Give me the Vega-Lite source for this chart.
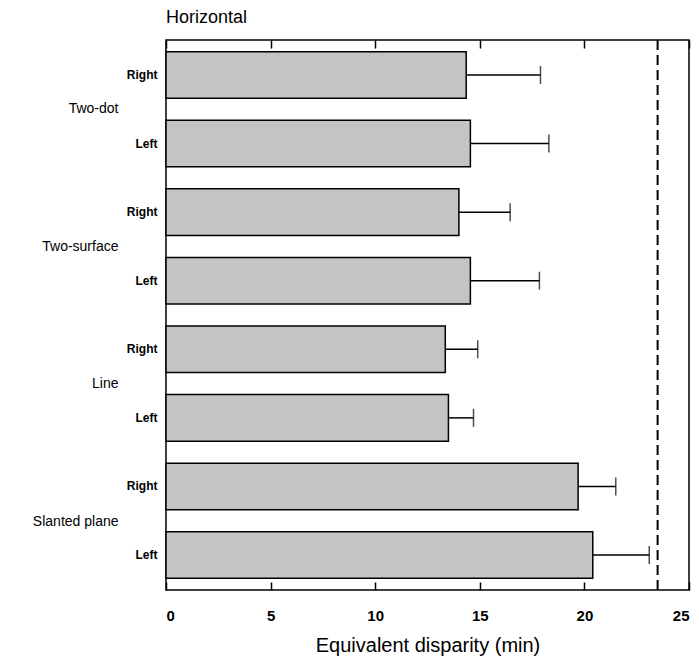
{
  "$schema": "https://vega.github.io/schema/vega-lite/v6.json",
  "autosize": "none",
  "width": 523,
  "height": 550,
  "padding": {"left": 166, "top": 40, "right": 10, "bottom": 69},
  "background": "white",
  "config": {
    "font": "Liberation Sans",
    "view": {"stroke": "black", "strokeWidth": 1.5},
    "title": {"font": "Liberation Sans", "fontSize": 18, "fontWeight": "normal", "anchor": "start", "frame": "group", "offset": 12, "color": "black"}
  },
  "title": "Horizontal",
  "datasets": {
    "bars": [
      {"key": "Two-dot|Right", "group": "Two-dot", "side": "Right", "value": 14.35, "upper": 17.9},
      {"key": "Two-dot|Left", "group": "Two-dot", "side": "Left", "value": 14.55, "upper": 18.3},
      {"key": "Two-surface|Right", "group": "Two-surface", "side": "Right", "value": 14.0, "upper": 16.45},
      {"key": "Two-surface|Left", "group": "Two-surface", "side": "Left", "value": 14.55, "upper": 17.85},
      {"key": "Line|Right", "group": "Line", "side": "Right", "value": 13.35, "upper": 14.9},
      {"key": "Line|Left", "group": "Line", "side": "Left", "value": 13.5, "upper": 14.7},
      {"key": "Slanted plane|Right", "group": "Slanted plane", "side": "Right", "value": 19.7, "upper": 21.5},
      {"key": "Slanted plane|Left", "group": "Slanted plane", "side": "Left", "value": 20.4, "upper": 23.1}
    ],
    "groups": [
      {"group": "Two-dot"},
      {"group": "Two-surface"},
      {"group": "Line"},
      {"group": "Slanted plane"}
    ],
    "ref": [{"threshold": 23.5}]
  },
  "layer": [
    {
      "layer": [
        {
          "data": {"name": "bars"},
          "mark": {"type": "bar", "fill": "#c4c4c4", "stroke": "black", "strokeWidth": 1.5},
          "encoding": {
            "y": {
              "field": "key",
              "type": "nominal",
              "sort": ["Two-dot|Right", "Two-dot|Left", "Two-surface|Right", "Two-surface|Left", "Line|Right", "Line|Left", "Slanted plane|Right", "Slanted plane|Left"],
              "scale": {"paddingInner": 0.32, "paddingOuter": 0.17},
              "axis": {
                "title": null,
                "ticks": false,
                "domain": false,
                "labelExpr": "split(datum.label, '|')[1]",
                "labelFont": "Liberation Sans",
                "labelFontSize": 12,
                "labelFontWeight": "bold",
                "labelColor": "black",
                "labelPadding": 9
              }
            },
            "x": {
              "field": "value",
              "type": "quantitative",
              "scale": {"domain": [0, 25], "nice": false, "zero": true},
              "axis": {
                "orient": "bottom",
                "values": [0, 5, 10, 15, 20, 25],
                "grid": false,
                "domain": false,
                "tickSize": -8,
                "tickWidth": 1.5,
                "tickColor": "black",
                "labelPadding": 26,
                "labelFont": "Liberation Sans",
                "labelFontSize": 15,
                "labelFontWeight": "bold",
                "labelColor": "black",
                "title": "Equivalent disparity (min)",
                "titleFont": "Liberation Sans",
                "titleFontSize": 20,
                "titleFontWeight": "normal",
                "titleColor": "black",
                "titlePadding": 12
              }
            }
          }
        },
        {
          "data": {"name": "bars"},
          "mark": {"type": "rule", "color": "black", "strokeWidth": 1.5},
          "encoding": {
            "y": {"field": "key", "type": "nominal", "axis": null, "sort": ["Two-dot|Right", "Two-dot|Left", "Two-surface|Right", "Two-surface|Left", "Line|Right", "Line|Left", "Slanted plane|Right", "Slanted plane|Left"]},
            "x": {"field": "value", "type": "quantitative", "axis": null},
            "x2": {"field": "upper"}
          }
        },
        {
          "data": {"name": "bars"},
          "mark": {"type": "tick", "orient": "vertical", "color": "black", "size": 18, "thickness": 1.5},
          "encoding": {
            "y": {"field": "key", "type": "nominal", "axis": null, "sort": ["Two-dot|Right", "Two-dot|Left", "Two-surface|Right", "Two-surface|Left", "Line|Right", "Line|Left", "Slanted plane|Right", "Slanted plane|Left"]},
            "x": {"field": "upper", "type": "quantitative", "axis": null}
          }
        },
        {
          "data": {"name": "ref"},
          "mark": {"type": "rule", "color": "black", "strokeWidth": 2, "strokeDash": [10, 5]},
          "encoding": {
            "x": {
              "field": "threshold",
              "type": "quantitative",
              "axis": {
                "orient": "top",
                "values": [0, 5, 10, 15, 20, 25],
                "labels": false,
                "grid": false,
                "domain": false,
                "tickSize": -8,
                "tickWidth": 1.5,
                "tickColor": "black",
                "title": null
              }
            }
          }
        }
      ],
      "resolve": {"axis": {"x": "independent", "y": "independent"}}
    },
    {
      "data": {"name": "groups"},
      "mark": {"type": "point", "opacity": 0},
      "encoding": {
        "y": {
          "field": "group",
          "type": "nominal",
          "sort": ["Two-dot", "Two-surface", "Line", "Slanted plane"],
          "scale": {"paddingInner": 0, "paddingOuter": 0},
          "axis": {
            "orient": "left",
            "title": null,
            "ticks": false,
            "domain": false,
            "labelFont": "Liberation Sans",
            "labelFontSize": 14,
            "labelColor": "black",
            "labelPadding": 48
          }
        }
      }
    }
  ],
  "resolve": {"scale": {"y": "independent"}, "axis": {"y": "independent", "x": "independent"}}
}
